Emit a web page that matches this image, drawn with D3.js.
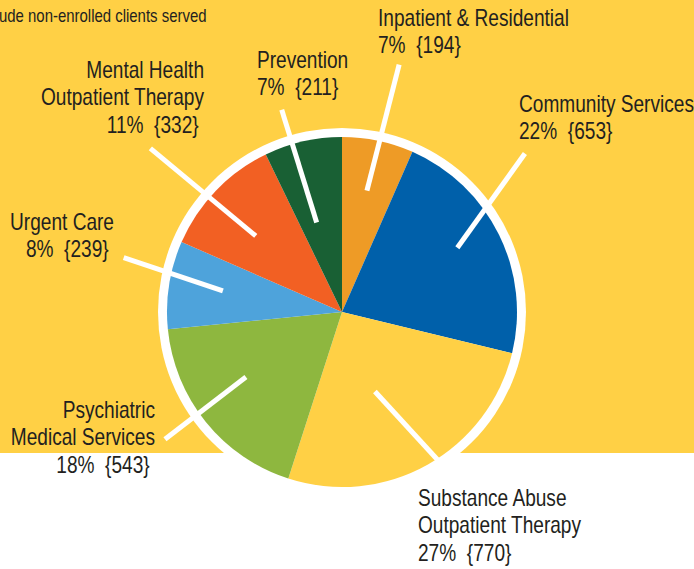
<!DOCTYPE html>
<html>
<head>
<meta charset="utf-8">
<script src="https://cdn.jsdelivr.net/npm/d3@7/dist/d3.min.js"></script>
<style>
  html, body { margin: 0; padding: 0; background: #ffffff; }
  svg { display: block; }
  text { font-family: "Liberation Sans", Arial, sans-serif; fill: #231f20; white-space: pre; }
</style>
</head>
<body>
<svg id="chart" width="694" height="569"></svg>
<script>
// ---- data ----
const categories = [
  ["Inpatient & Residential"],
  ["Community Services"],
  ["Substance Abuse", "Outpatient Therapy"],
  ["Psychiatric", "Medical Services"],
  ["Urgent Care"],
  ["Mental Health", "Outpatient Therapy"],
  ["Prevention"]
];
const clients = [194, 653, 770, 543, 239, 332, 211];
const percents = [7, 22, 27, 18, 8, 11, 7];
const sliceColors = ["#ee9b26", "#0060aa", "#ffd045", "#8eb73f", "#4ea3db", "#f26023", "#196034"];
const footnote = "ude non-enrolled clients served";

// ---- layout (leader lines in polar terms, labels relative to pie centre) ----
const leaderLayout = [
  { r0: 124, a0: 11.6, r1: 254, a1: 13.0 },
  { r0: 132, a0: 60.9, r1: 242, a1: 49.1 },
  { r0: 86,  a0: 157.5, r1: 182, a1: 146.8 },
  { r0: 116, a0: 235.9, r1: 218, a1: 234.3 },
  { r0: 121, a0: 280.1, r1: 225, a1: 284.0 },
  { r0: 115, a0: 311.4, r1: 252, a1: 310.5 },
  { r0: 93,  a0: 344.2, r1: 211, a1: 343.4 }
];
const labelLayout = [
  { dx: 36,   dy: -286, anchor: "start" },
  { dx: 177,  dy: -200, anchor: "start" },
  { dx: 76,   dy: 194,  anchor: "start" },
  { dx: -187, dy: 106,  anchor: "end" },
  { dx: -228, dy: -82,  anchor: "end" },
  { dx: -138, dy: -234, anchor: "end" },
  { dx: -85,  dy: -244, anchor: "start" }
];

const W = 694, H = 569;
const cx = 342, cy = 312;
const pieR = 175, ringR = 184;
const bgH = 453;
const lineH = 27.5;
const squeeze = 0.83;

const svg = d3.select("#chart");

svg.append("rect").attr("x", 0).attr("y", 0).attr("width", W).attr("height", bgH).attr("fill", "#ffd045");

svg.append("g").attr("transform", `translate(-1,22) scale(${squeeze},1)`)
  .append("text")
  .attr("x", 0).attr("y", 0)
  .attr("font-size", 18)
  .text(footnote);

const g = svg.append("g").attr("transform", `translate(${cx},${cy})`);

g.append("circle").attr("r", ringR).attr("fill", "#ffffff");

const pie = d3.pie().sort(null).value(d => d)(clients);
const arc = d3.arc().innerRadius(0).outerRadius(pieR);

g.selectAll("path.slice")
  .data(pie)
  .join("path")
  .attr("class", "slice")
  .attr("d", arc)
  .attr("fill", (d, i) => sliceColors[i]);

const rad = a => a * Math.PI / 180;
g.selectAll("line.leader")
  .data(leaderLayout)
  .join("line")
  .attr("class", "leader")
  .attr("x1", d => d.r0 * Math.sin(rad(d.a0)))
  .attr("y1", d => -d.r0 * Math.cos(rad(d.a0)))
  .attr("x2", d => d.r1 * Math.sin(rad(d.a1)))
  .attr("y2", d => -d.r1 * Math.cos(rad(d.a1)))
  .attr("stroke", "#ffffff")
  .attr("stroke-width", 5);

const fmt = d3.format(",");
categories.forEach((names, i) => {
  const L = labelLayout[i];
  const lines = names.slice();
  const pctLine = `${percents[i]}%  {${fmt(clients[i])}}` + (L.anchor === "end" ? " " : "");
  lines.push(pctLine);
  const t = g.append("g")
    .attr("transform", `translate(${L.dx},${L.dy}) scale(${squeeze},1)`)
    .append("text")
    .attr("text-anchor", L.anchor)
    .attr("font-size", 23);
  lines.forEach((s, k) => {
    t.append("tspan").attr("x", 0).attr("y", k * lineH).text(s);
  });
});
</script>
</body>
</html>
